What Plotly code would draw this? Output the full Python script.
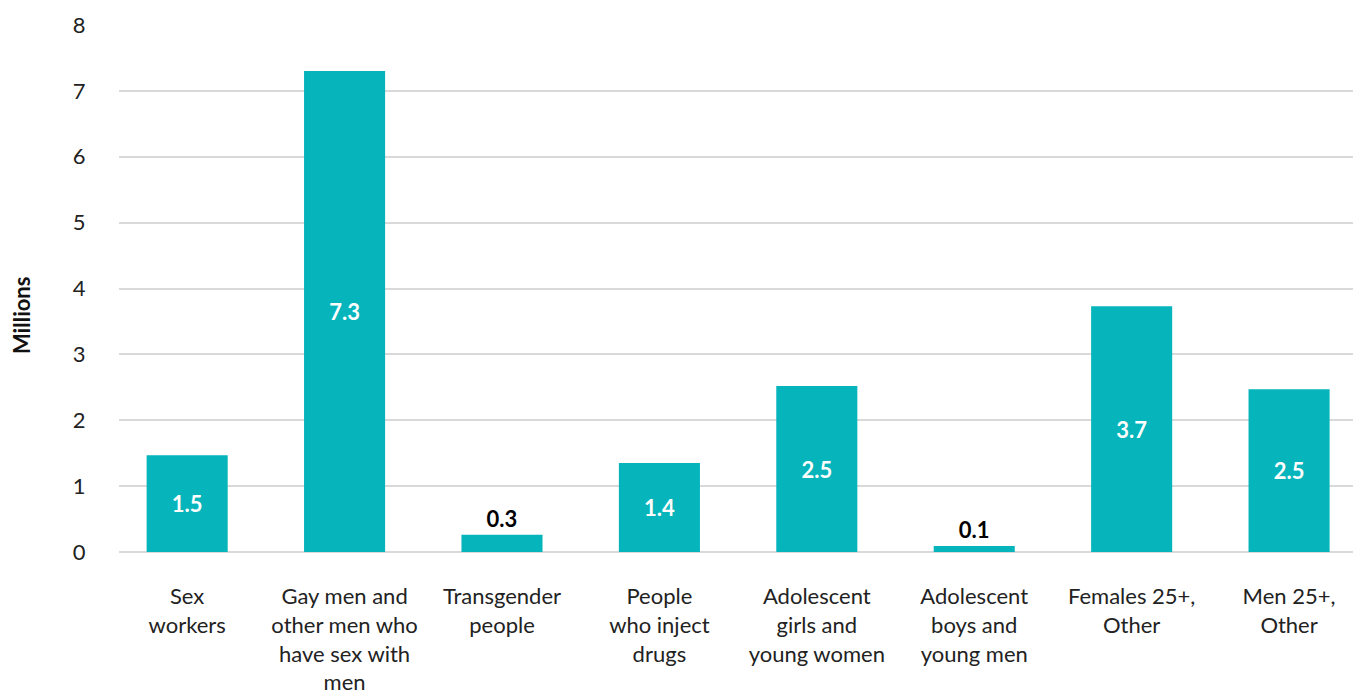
import plotly.graph_objects as go

categories = [
    "Sex<br>workers",
    "Gay men and<br>other men who<br>have sex with<br>men",
    "Transgender<br>people",
    "People<br>who inject<br>drugs",
    "Adolescent<br>girls and<br>young women",
    "Adolescent<br>boys and<br>young men",
    "Females 25+,<br>Other",
    "Men 25+,<br>Other",
]
values = [1.47, 7.30, 0.26, 1.35, 2.52, 0.09, 3.73, 2.47]
y_ticks = [0, 1, 2, 3, 4, 5, 6, 7, 8]

labels = [f"{v:.1f}" for v in values]
positions = ["inside" if v > 1 else "outside" for v in values]
text_colors = ["white" if v > 1 else "black" for v in values]

FONT = "Lato, 'Open Sans', sans-serif"
BAR = "#05B5BB"

fig = go.Figure(
    go.Bar(
        x=list(range(len(categories))),
        y=values,
        text=labels,
        textposition=positions,
        insidetextanchor="middle",
        textfont=dict(family=FONT, size=22, color=text_colors, weight="bold"),
        marker=dict(color=BAR, line=dict(width=0)),
        width=0.515,
        cliponaxis=False,
        hoverinfo="skip",
    )
)

fig.update_layout(
    width=1361,
    height=695,
    margin=dict(l=111, r=8, t=17, b=151),
    paper_bgcolor="white",
    plot_bgcolor="white",
    showlegend=False,
    font=dict(family=FONT, color="#222222", size=22),
    uniformtext=dict(mode=False),
    annotations=[
        dict(
            text="<b>Millions</b>",
            xref="paper", yref="paper",
            x=-0.078, y=0.448,
            xanchor="center", yanchor="middle",
            textangle=-90,
            showarrow=False,
            font=dict(family=FONT, size=22, color="#111111"),
        )
    ],
)

fig.update_xaxes(
    tickmode="array",
    tickvals=list(range(len(categories))),
    ticktext=categories,
    range=[-0.433, 7.457],
    showgrid=False,
    zeroline=False,
    showline=False,
    ticks="outside",
    ticklen=25,
    tickcolor="rgba(0,0,0,0)",
    tickfont=dict(family=FONT, size=22, color="#222222"),
    tickangle=0,
    automargin=False,
)

fig.update_yaxes(
    range=[0, 8],
    tickmode="array",
    tickvals=y_ticks,
    ticktext=[str(t) for t in y_ticks],
    showgrid=True,
    gridcolor="#D9D9D9",
    gridwidth=1.5,
    zeroline=True,
    zerolinecolor="#D9D9D9",
    zerolinewidth=1.5,
    showline=False,
    ticks="outside",
    ticklen=28,
    tickcolor="rgba(0,0,0,0)",
    tickfont=dict(family=FONT, size=22, color="#222222"),
    automargin=False,
)

fig.write_html("out.html")
